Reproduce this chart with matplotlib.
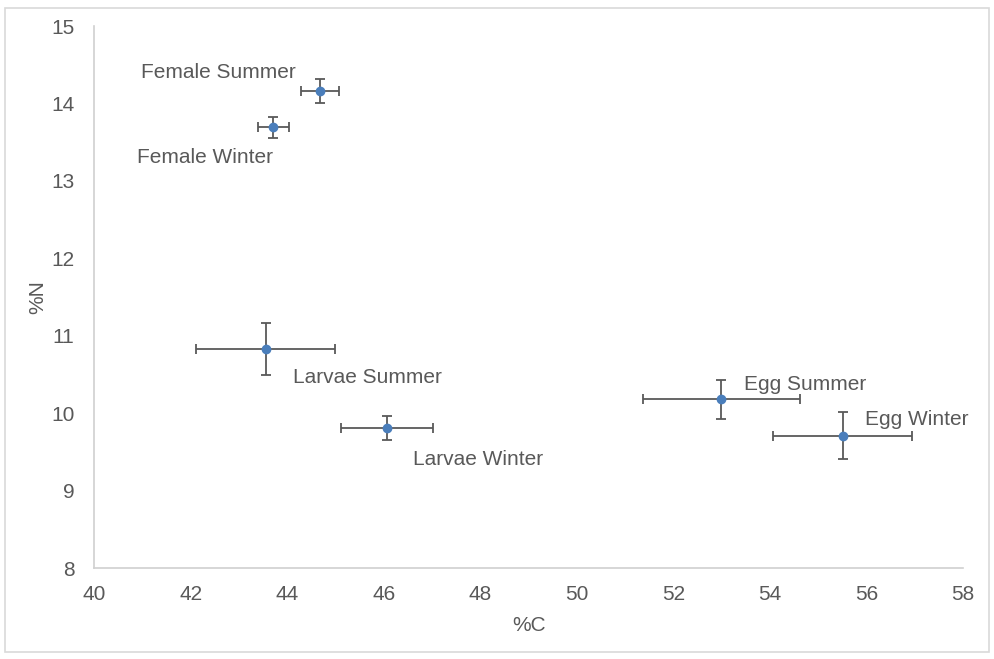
import matplotlib.pyplot as plt
from matplotlib.patches import Rectangle

plt.rcParams['font.family'] = ['Liberation Sans', 'DejaVu Sans']

# stage / season groups and their C, N contents (mean +- error)
labels = ["Female Summer", "Female Winter", "Larvae Summer",
          "Larvae Winter", "Egg Summer", "Egg Winter"]
carbon = [44.68, 43.71, 43.56, 46.06, 52.99, 55.51]
nitrogen = [14.16, 13.69, 10.83, 9.81, 10.18, 9.71]
carbon_err = [0.39, 0.32, 1.44, 0.95, 1.63, 1.44]
nitrogen_err = [0.15, 0.13, 0.34, 0.15, 0.25, 0.30]

# label offsets in pixels from each point
offsets = [(-102, 19), (-68, -30), (102, -29), (91, -32), (84, 15), (74, 16)]

GREY = "#595959"
FS = 15


def main():
    fig = plt.figure(figsize=(9.94, 6.59), dpi=100)
    ax = fig.add_axes([0.0946, 0.138, 0.8744, 0.8225])

    ax.errorbar(carbon, nitrogen, xerr=carbon_err, yerr=nitrogen_err,
                fmt="o", color="#4A7EBB", markersize=6,
                ecolor=GREY, elinewidth=1.3, capsize=3.5, capthick=1.3)

    for lab, x, y, off in zip(labels, carbon, nitrogen, offsets):
        ax.annotate(lab, (x, y), xytext=off, textcoords="offset pixels",
                    ha="center", va="center", fontsize=FS, color=GREY)

    ax.set_xlim(40, 58)
    ax.set_ylim(8, 15)
    ax.set_xticks(range(40, 59, 2))
    ax.set_yticks(range(8, 16))
    ax.tick_params(length=0, labelsize=FS, colors=GREY)
    ax.tick_params(axis="x", pad=12)
    ax.tick_params(axis="y", pad=14)

    for side in ["top", "right"]:
        ax.spines[side].set_visible(False)
    for side in ["left", "bottom"]:
        ax.spines[side].set_color("#D0D0D0")
        ax.spines[side].set_linewidth(1.2)

    ax.set_xlabel("%C", fontsize=FS, color=GREY, labelpad=9)
    ax.set_ylabel("%N", fontsize=FS, color=GREY, labelpad=3)

    # thin frame round the whole chart
    fig.patches.append(Rectangle((0.005, 0.01), 0.99, 0.978,
                                 transform=fig.transFigure, fill=False,
                                 edgecolor="#D9D9D9", linewidth=1.2))

    fig.savefig("out.png", dpi=100)


if __name__ == "__main__":
    main()
